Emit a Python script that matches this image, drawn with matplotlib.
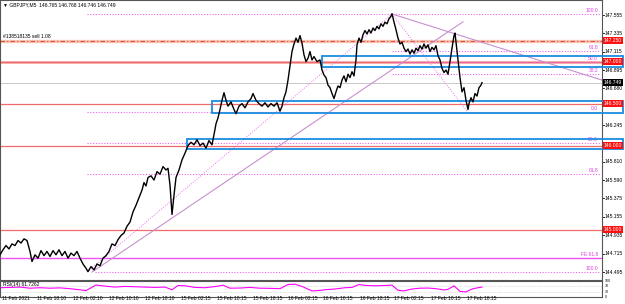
import matplotlib.pyplot as plt
from matplotlib.patches import Rectangle

plt.rcParams["font.family"] = ["Liberation Sans", "DejaVu Sans"]

# close path, x = chart column along the time axis, y = price
px = [0, 3, 6, 9, 12, 15, 18, 21, 24, 27, 30, 32, 35, 38, 41, 44, 47, 50, 53, 56,
      59, 62, 65, 68, 71, 74, 77, 80, 83, 86, 88, 91, 94, 97, 100, 103, 106, 109, 112, 115,
      118, 121, 124, 127, 130, 133, 136, 139, 142, 144, 146, 148, 151, 154, 157, 160, 163, 166, 168, 170,
      172, 174, 176, 179, 182, 185, 188, 191, 194, 197, 200, 203, 206, 209, 212, 214, 216, 218, 220, 222,
      224, 226, 228, 231, 234, 236, 239, 242, 245, 248, 251, 253, 256, 259, 262, 265, 268, 271, 274, 277,
      280, 282, 284, 286, 288, 290, 292, 294, 296, 298, 300, 302, 304, 306, 308, 310, 312, 314, 317, 320,
      322, 324, 326, 328, 330, 332, 334, 336, 338, 340, 342, 344, 346, 348, 350, 352, 354, 356, 357, 359,
      361, 363, 365, 367, 369, 371, 373, 375, 377, 379, 381, 383, 385, 387, 389, 391, 392, 394, 396, 398,
      400, 402, 404, 406, 408, 410, 412, 414, 416, 418, 420, 422, 424, 426, 428, 430, 432, 434, 436, 438,
      440, 442, 444, 446, 448, 450, 452, 454, 455, 456, 458, 460, 462, 464, 466, 468, 469, 471, 473, 475,
      477, 479, 481, 482]
py = [144.70, 144.76, 144.81, 144.77, 144.83, 144.81, 144.87, 144.84, 144.89, 144.87, 144.74, 144.62, 144.70, 144.66, 144.75, 144.69, 144.74, 144.68, 144.75, 144.70,
      144.76, 144.69, 144.74, 144.66, 144.72, 144.69, 144.74, 144.66, 144.59, 144.54, 144.50, 144.56, 144.52, 144.59, 144.57, 144.66, 144.69, 144.74, 144.83, 144.81,
      144.88, 144.93, 144.96, 145.04, 145.09, 145.21, 145.29, 145.38, 145.47, 145.56, 145.52, 145.62, 145.64, 145.59, 145.69, 145.66, 145.75, 145.71, 145.73, 145.53,
      145.18, 145.41, 145.62, 145.71, 145.83, 145.91, 146.00, 146.04, 146.01, 146.07, 146.00, 146.03, 145.97, 146.06, 146.01, 146.13, 146.26, 146.33, 146.43, 146.54,
      146.63, 146.54, 146.47, 146.52, 146.43, 146.38, 146.47, 146.50, 146.45, 146.52, 146.56, 146.62, 146.54, 146.50, 146.47, 146.51, 146.46, 146.50, 146.47, 146.51,
      146.41, 146.47, 146.57, 146.64, 146.78, 146.95, 147.12, 147.21, 147.28, 147.23, 147.31, 147.22, 147.08, 147.00, 147.04, 147.12, 147.02, 147.06, 147.00, 147.02,
      146.90, 146.84, 146.81, 146.72, 146.69, 146.62, 146.56, 146.64, 146.71, 146.69, 146.78, 146.83, 146.76, 146.85, 146.81, 146.88, 146.83, 147.02, 147.20, 147.28,
      147.23, 147.32, 147.37, 147.33, 147.38, 147.34, 147.40, 147.37, 147.42, 147.39, 147.45, 147.42, 147.47, 147.45, 147.51, 147.54, 147.57, 147.47, 147.38, 147.28,
      147.21, 147.23, 147.16, 147.12, 147.15, 147.09, 147.14, 147.10, 147.16, 147.13, 147.19, 147.15, 147.21, 147.16, 147.20, 147.12, 147.17, 147.14, 147.19, 147.07,
      147.02, 146.92, 146.87, 146.90, 146.85, 147.00, 147.16, 147.31, 147.34, 147.23, 147.02, 146.81, 146.64, 146.69, 146.54, 146.43, 146.50, 146.57, 146.52, 146.62,
      146.59, 146.69, 146.72, 146.75]

rsi_x = [0, 10, 20, 30, 40, 50, 60, 70, 80, 86, 96, 105, 115, 125, 135, 145, 155, 165, 172, 178,
         185, 195, 205, 215, 223, 230, 240, 250, 260, 270, 280, 288, 295, 302, 312, 318, 326, 335, 345, 352,
         359, 366, 375, 385, 392, 398, 404, 412, 420, 428, 436, 444, 448, 454, 460, 466, 472, 478, 482]
rsi_v = [58, 60, 62, 55, 58, 55, 57, 52, 45, 40, 75, 68, 62, 66, 64, 62, 60, 62, 45, 72,
         70, 60, 58, 65, 74, 55, 56, 60, 55, 54, 52, 78, 80, 66, 38, 40, 46, 50, 58, 60,
         78, 72, 70, 72, 74, 42, 38, 50, 55, 56, 52, 44, 48, 70, 35, 32, 50, 58, 62]

tick_prices = [147.555, 147.335, 147.115, 146.895, 146.680, 146.245, 145.810, 145.590,
               145.375, 145.155, 144.935, 144.715, 144.495]
red_levels = [147.000, 146.500, 146.000, 145.000]
sell_level = 147.250
bid = 146.749

fib_levels = [147.567, 147.125, 146.990, 146.850, 146.395, 146.030, 145.665, 144.495]
fib_labels = ["100.0", "61.8", "50.0", "38.2", "0.0", "50.0", "61.8", "100.0"]
fib_start = [87, 392, 392, 392, 87, 87, 87, 95]
fe_level = 144.662

zones = [(322, 146.936, 147.067), (212, 146.392, 146.535), (187, 145.960, 146.079)]

time_pos = [2, 37, 73, 109, 145, 181, 217, 253, 288, 323, 360, 394, 431, 467]
time_labels = ["11 Feb 2021", "11 Feb 18:10", "12 Feb 02:10", "12 Feb 10:10", "12 Feb 18:10",
               "15 Feb 02:15", "15 Feb 10:15", "15 Feb 18:15", "16 Feb 02:15", "16 Feb 10:15",
               "16 Feb 18:15", "17 Feb 02:15", "17 Feb 10:15", "17 Feb 18:15"]

fs = 3.6
fig = plt.figure(figsize=(6.25, 3.04), dpi=100)
ax = fig.add_axes([0.0, 24 / 304, 602 / 625, 280 / 304])
ax.set_xlim(0, 602)
ax.set_ylim(144.400, 147.7336)
ax.set_xticks([])
ax.set_yticks([])
for s in ax.spines.values():
    s.set_color("#555555")
    s.set_linewidth(0.8)

# horizontal levels
ax.axhline(bid, color="#c8c8c8", lw=0.7)
for lv in red_levels:
    ax.axhline(lv, color="#f06a6a", lw=0.9)
ax.axhline(147.000, color="#f7b8b8", lw=2.2, zorder=1)
ax.axhline(sell_level, color="#f6c4b4", lw=2.4)
ax.axhline(sell_level, color="#e0503a", lw=0.8, ls=(0, (4, 2, 1, 2)))
ax.axhline(fe_level, color="#f050f0", lw=1.0)
ax.text(598, fe_level + 0.015, "FE 61.8", color="#e040e0", fontsize=fs, ha="right", va="bottom")

for lv, lb, xs in zip(fib_levels, fib_labels, fib_start):
    ax.plot([xs, 600], [lv, lv], color="#f060f0", lw=0.8, ls=(0, (1, 1.5)))
    ax.text(598, lv + 0.012, lb, color="#e040e0", fontsize=fs, ha="right", va="bottom")

# trend and fib diagonals
ax.plot([92, 463], [144.495, 147.474], color="#c890d0", lw=0.8)
ax.plot([392, 602], [147.567, 146.78], color="#c890d0", lw=0.8)
ax.plot([87, 392], [144.495, 147.567], color="#f070f0", lw=0.7, ls=(0, (1, 1.5)))
ax.plot([392, 468], [147.567, 146.395], color="#f070f0", lw=0.7, ls=(0, (1, 1.5)))

for x0, lo, hi in zones:
    ax.add_patch(Rectangle((x0, lo), 623 - x0, hi - lo, fill=False, ec="#1a8ce0",
                           lw=1.3, clip_on=False, zorder=4))

ax.plot(px, py, color="black", lw=1.0, zorder=5)

# title and order label
ax.text(3, 147.675, "\u25bc GBPJPY,M5  146.765 146.768 146.746 146.749", fontsize=fs,
        va="center", ha="left")
ax.text(3, sell_level + 0.02, "#138518135 sell 1.08", fontsize=fs, va="bottom", ha="left")

# right price scale
for tp in tick_prices:
    ax.text(605, tp, "%.3f" % tp, fontsize=fs, va="center", ha="left", clip_on=False)
    ax.plot([602, 604], [tp, tp], color="black", lw=0.6, clip_on=False)
for lv in red_levels + [sell_level]:
    ax.text(604, lv, "%.3f" % lv, fontsize=fs, va="center", ha="left", color="white",
            clip_on=False, zorder=6,
            bbox=dict(boxstyle="square,pad=0.15", fc="#ff1010", ec="none"))
ax.text(604, bid, "%.3f" % bid, fontsize=fs, va="center", ha="left", color="white",
        clip_on=False, zorder=6, bbox=dict(boxstyle="square,pad=0.15", fc="black", ec="none"))

# RSI panel
ra = fig.add_axes([0.0, 7 / 304, 602 / 625, 16 / 304])
ra.set_xlim(0, 602)
ra.set_ylim(0, 100)
ra.set_xticks([])
ra.set_yticks([])
for s in ra.spines.values():
    s.set_color("#555555")
    s.set_linewidth(0.8)
for lv in [70, 30]:
    ra.axhline(lv, color="#c0c0c0", lw=0.5, ls=(0, (1, 1.5)))
ra.plot(rsi_x, rsi_v, color="#ff00ff", lw=0.8)
ra.text(3, 92, "RSI(14) 61.7262", fontsize=fs, va="top", ha="left")
for lv, lb in [(100, "100"), (70, "70"), (30, "30"), (0, "0")]:
    ra.text(605, lv, lb, fontsize=2.5, va="center", ha="left", clip_on=False)

for tx, tl in zip(time_pos, time_labels):
    fig.text(tx / 625, 1 - 299 / 304, tl, fontsize=fs, va="center", ha="left")

fig.savefig("out.png", dpi=100)
